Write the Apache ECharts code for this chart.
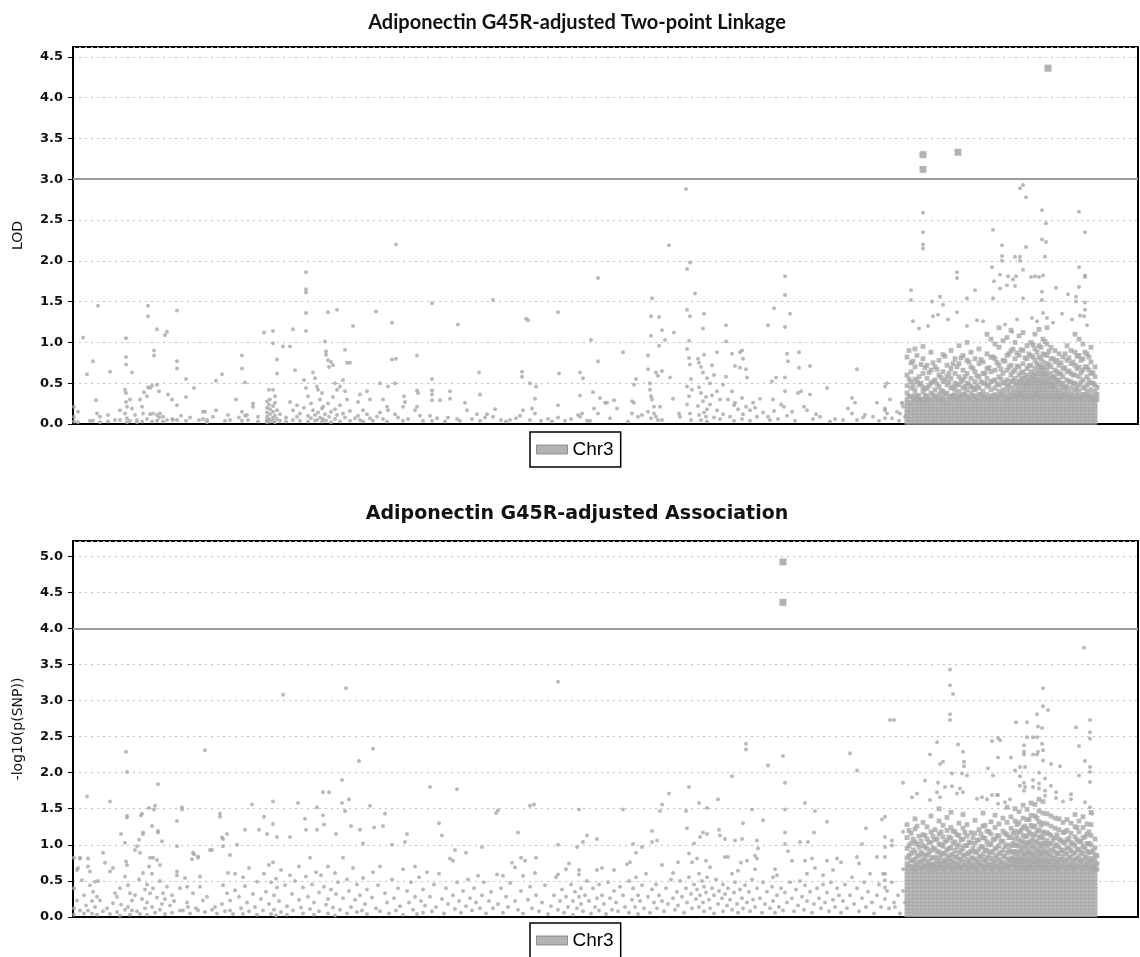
<!DOCTYPE html>
<html><head><meta charset="utf-8">
<script src="https://cdn.jsdelivr.net/npm/echarts@6/dist/echarts.min.js"></script>
<style>html,body{margin:0;padding:0;background:#fff}#c{width:1140px;height:957px}</style>
</head><body><div id="c"></div>
<script>
// ---------- DATA ----------
// x = position along chromosome 3 (plot units), values stored as value*100
// Each entry: [position, v1, v2, ...]
const titles = ['Adiponectin G45R-adjusted Two-point Linkage', 'Adiponectin G45R-adjusted Association'];
const yNames = ['LOD', '-log10(p(SNP))'];
const legendName = 'Chr3';
const xRange = [0, 1065];
const linkYRange = [0, 4.62];
const assocYRange = [0, 5.21];
const yInterval = 0.5;
const linkThreshold = 3.0;
const assocThreshold = 4.0;

// Two-point linkage LOD, sparse part of chromosome
const linkSparse = [[1,21,9,3],[5,15,2],[10,106],[14,61],[17,4],[20,77,4],[23,29],[24,13],[25,145],[27,9,2],[35,11,3],[37,64],[42,5],[47,17,5],[52,42,13],[53,105,82,73,38,27],[54,21,7,2],[57,30,4],[59,63,19],[62,11],[64,5,2],[67,30],[69,21,3],[70,13],[71,39],[74,34,6],[75,145,132,45],[77,44,12],[79,47,3],[80,13],[81,90,84],[84,116,48,11,4],[86,40,8],[87,13],[90,9,3],[92,109],[94,113,5],[95,36],[99,30,6],[100,5],[104,139,77,68,23,5],[108,10],[113,55,33,4],[117,8],[121,44],[126,5],[130,15,6],[132,15],[134,5,2],[140,9],[143,53,17],[149,61],[152,4],[155,11],[157,5],[163,30],[166,8],[169,84,68,15,4],[172,51,10],[174,11],[175,5],[180,25,21],[185,9,3],[191,112],[194,28,20,14,9,5,2],[196,42,24,6],[197,30,18,12,3],[200,114,99,42,22,15,8,4],[202,34,26,10,2],[204,79,62,17,6],[207,12,4],[210,95],[213,8,3],[217,95,27],[220,116,17,5],[222,66],[224,23,9],[227,13,4],[231,54,20],[233,186,165,161,136,114,44],[235,34,10,3],[238,25,7],[240,63,17],[242,56,11,4],[244,46,5],[245,42,14],[247,30,8],[249,38,19,3],[250,21,6],[252,101,12],[253,89,85,4],[255,137,78,25],[256,70,9],[258,76,15,2],[260,72,33],[262,50,18,6],[264,140,42,11],[267,46,23,3],[270,54,13],[272,91,40,8],[274,75,30],[277,75,16,4],[280,120],[282,7],[285,27,10],[287,36,5],[290,17,3],[294,40,12],[297,30,7],[300,4],[303,138],[304,9],[307,50,14],[310,30,6],[314,21,3],[315,46,17],[319,124,79],[322,50,12],[323,220,80],[325,8],[330,21,4],[331,34],[332,27],[335,6],[342,17],[344,84,41,21],[345,38],[347,10],[350,4],[357,10],[359,148,55,41,36,29,4],[364,7],[367,29],[372,3],[375,8],[377,40,31],[384,6],[385,122],[387,4],[392,26],[394,17],[399,6],[404,12],[406,63],[407,36,4],[412,8],[414,12],
[420,152,9],[422,18],[428,5],[433,3],[437,5],[443,7],[447,10],[449,58,64],[450,17],[453,129],[455,127],[457,50,5],[459,19],[462,31,13],[463,46],[468,4],[475,6],[479,3],[485,137,23,8],[486,62],[492,4],[498,6],[505,11],[507,63,35,9],[509,13],[510,56],[514,4],[517,4],[518,103],[520,39],[521,19],[525,179,77,13],[527,32],[532,26],[534,26],[537,7],[541,29],[544,19],[550,88],[555,3],[559,28,13],[561,48,26],[563,55],[565,9],[569,11],[575,84,67,15],[577,50,42],[578,132,108,34,7],[579,154,30],[581,21,13],[583,63,9],[585,59,5],[586,131,96],[587,21],[589,115,65,5],[592,103],[596,219],[597,57],[600,31],[601,112],[606,13],[607,9],[613,288],[614,190,140,92,46,24],[616,102,81,34],[617,198,132,73,13],[618,55,5],[619,42],[622,160],[625,80,22],[626,75,45,11],[628,70,38,5],[630,117,63,28],[631,135,85,14],[633,33,9],[634,56,18,3],[637,50,24],[639,72,35],[641,60,8],[644,88,40,17],[647,30,6],[650,48,12],[653,121,101,58],[655,30],[657,9],[659,86,40],[661,23,4],[662,71,26],[665,18],[667,88,69],[669,90,32,6],[670,80,12],[673,67,21],[674,57],[677,17,4],[680,26],[682,20],[684,9],[687,31],[690,14],[695,121,9],[697,5],[699,52],[700,30],[701,142,16],[703,57],[705,6],[708,24],[711,21],[712,181,158,119,57,40],[714,86,10],[715,77],[717,135],[719,15],[722,4],[725,38],[726,88,69],[728,40],[731,21],[734,17],[737,71,36],[740,6],[743,12],[747,9],[754,44],[757,3],[762,6],[770,5],[775,19],[779,32,13],[782,26],[784,67,5],[790,8],[792,11],[800,9],[804,26],[806,4],[812,46,19,17,7],[814,50,13],[817,30],[819,7],[824,15],[826,4],[827,13],[829,26,25],[830,21],[832,9]];

// Two-point linkage LOD, upper scattered points over the dense block
const linkUpper = [[838,164,152],[840,126],[846,117],[850,259,235,220,215],[855,120],[859,150],[860,132],[865,134],[867,156],[870,146],[875,128],[884,186,179,137],[894,154,120],[902,164],[904,127],[910,126],[919,192],[920,238,154],[921,175],[927,183,166],[929,219,206,200],[932,122],[934,170],[935,181],[939,113],[940,177],[942,205,169],[943,181],[944,128],[947,289,205,200],[950,293,189,154],[953,278,217],[958,180],[959,130],[962,181],[964,126],[966,180],[969,262,226,162,152],[970,182,136],[972,205],[973,246,223],[974,130],[980,124],[983,167],[989,135],[995,159],[999,128],[1003,156,150],[1006,260,192,168],[1007,133],[1011,132],[1012,235,182,180,149,140],[1014,121]];

// Two-point linkage LOD, dense block of markers
const linkDense = [
[834,2,6,10,14,18,22,26,30,38,47,60,82],
[838,2,6,10,14,18,22,26,34,44,52,64,75],
[842,2,6,10,14,18,22,26,30,36,42,55,70,92],
[846,2,6,10,14,18,22,26,30,35,48,58],
[850,2,6,10,14,18,22,26,30,40,45,62,80,95],
[854,2,6,10,14,18,22,26,30,34,44,56,72],
[858,2,6,10,14,18,22,26,30,38,50,66,88],
[862,2,6,10,14,18,22,26,30,34,42,54,70],
[866,2,6,10,14,18,22,26,30,36,46,60,78],
[870,2,6,10,14,18,22,26,30,34,40,52,64,85],
[874,2,6,10,14,18,22,26,30,38,48,58,72],
[878,2,6,10,14,18,22,26,30,34,44,56,68,90],
[882,2,6,10,14,18,22,26,30,36,42,50,62,80],
[886,2,6,10,14,18,22,26,30,34,40,48,58,74,96],
[890,2,6,10,14,18,22,26,30,36,44,54,66,84],
[894,2,6,10,14,18,22,26,30,34,42,50,62,78,100],
[898,2,6,10,14,18,22,26,30,38,46,56,70,88],
[902,2,6,10,14,18,22,26,30,34,42,52,64,80],
[906,2,6,10,14,18,22,26,30,36,44,58,74,92],
[910,2,6,10,14,18,22,26,30,34,40,50,62,76],
[914,2,6,10,14,18,22,26,30,36,46,56,68,86,110],
[918,2,6,10,14,18,22,26,30,34,42,52,64,82,104],
[922,2,6,10,14,18,22,26,30,36,44,54,66,80,98],
[926,2,6,10,14,18,22,26,30,34,40,48,58,72,94,118],
[930,2,6,10,14,18,22,26,30,36,42,50,62,78,102],
[934,2,6,10,14,18,22,26,30,34,40,46,54,66,84,106],
[938,2,6,10,14,18,22,26,30,34,38,44,52,60,72,90,115],
[942,2,6,10,14,18,22,26,30,34,38,42,48,56,66,80,100],
[946,2,6,10,14,18,22,26,30,34,38,42,46,52,60,70,84,108],
[950,2,6,10,14,18,22,26,30,34,38,42,46,50,56,64,74,90,112],
[954,2,6,10,14,18,22,26,30,34,38,42,46,50,54,60,68,80,96],
[958,2,6,10,14,18,22,26,30,34,38,42,46,50,54,58,64,72,84,100],
[962,2,6,10,14,18,22,26,30,34,38,42,46,50,54,58,62,68,78,92,110],
[966,2,6,10,14,18,22,26,30,34,38,42,46,50,54,58,62,66,72,82,96,116],
[970,2,6,10,14,18,22,26,30,34,38,42,46,50,54,58,62,66,70,76,86,104],
[974,2,6,10,14,18,22,26,30,34,38,42,46,50,54,58,62,68,74,84,98,118],
[978,2,6,10,14,18,22,26,30,34,38,42,46,50,56,62,70,80,94],
[982,2,6,10,14,18,22,26,30,34,38,42,46,52,58,66,76,90],
[986,2,6,10,14,18,22,26,30,34,38,42,48,54,62,72,86],
[990,2,6,10,14,18,22,26,30,34,38,44,50,58,68,82],
[994,2,6,10,14,18,22,26,30,34,40,46,54,64,78,96],
[998,2,6,10,14,18,22,26,30,34,38,44,52,62,74,90],
[1002,2,6,10,14,18,22,26,30,36,42,50,60,72,88,110],
[1006,2,6,10,14,18,22,26,30,34,40,48,58,70,84,104],
[1010,2,6,10,14,18,22,26,30,36,44,54,66,80,98],
[1014,2,6,10,14,18,22,26,30,34,40,48,58,70,86],
[1018,2,6,10,14,18,22,26,30,36,42,50,62,76,94],
[1022,2,6,10,14,18,22,26,30,34,40,48,58,70]];

// Two-point linkage LOD, markers lying between the dense columns
const linkDenseMid = [[836,34,55,90],[840,30,48,77],[844,33,52,84],[848,29,50,73],[852,35,43,69],[856,31,47,63],[860,36,52,75],[864,32,49,67],[868,30,41,57],[872,37,54,83],[876,33,51,62],[880,35,45,74],[884,31,48,70],[888,34,53,81],[892,37,46,58],[896,32,49,76],[900,35,44,68],[904,30,47,59],[908,36,52,79],[912,33,50,62],[916,31,48,69],[920,35,53,82],[924,32,49,75],[928,36,55,67],[932,33,51,77],[936,31,48,70,86],[940,35,53,64,92],[944,33,50,71,87],[948,36,54,63,91],[952,32,49,58,81],[956,35,52,71,86],[960,33,50,60,82,97],[964,36,53,74,88],[968,32,49,69,80,94],[972,35,52,61,85,101],[976,33,51,73,89],[980,31,48,57,80],[984,35,53,64,78],[988,32,50,61,75],[992,36,45,69,86],[996,33,52,65,81],[1000,31,49,60,76],[1004,35,44,68,83],[1008,32,51,63,78],[1012,36,45,70,88],[1016,33,53,66,82],[1020,31,50,63],[1024,30,36,45]];

// Linkage markers above the LOD threshold (drawn as squares)
const linkPeaks = [[850,330],[850,312],[885,333],[975,436]];

// Association -log10(p), sparse part of chromosome
const assocSparse = [[1,82,40,12,3],[4,23,65],[5,68],[7,82,81,9],[9,51],[11,30,5],[13,16],[14,167],[15,81,70,9],[17,63,44],[19,5,22],[20,35],[22,49,14],[24,28,3],[25,50],[27,23],[30,89,8],[32,75],[34,12],[37,160,63,4],[40,68,19],[42,33],[44,28,7],[47,40,2],[48,115,17],[52,103,56,10],[53,229,77],[54,201,140,138,72],[55,44,14],[57,33,3],[59,23,9],
[62,93,30],[64,98,8],[66,107,52],[67,89,4],[68,141],[69,143,25],[70,117,115,61],[72,38,12],[74,45,20,3],[76,151,70],[77,82,33],[79,126,60,14],[80,82,40],[81,149],[82,154,6],[84,79,27],[85,184,119,117],[87,72,50,10],[89,105,18],[90,33],[92,25,4],[94,42],[97,16],[99,30,6],[101,22],[104,133,98,63,58],[107,40,9],[109,152,149],[110,9],[112,54],[114,42,20],[115,14],[117,5],[119,80],
[120,89,33],[121,87],[123,12],[125,84,82,9],[127,56,42],[130,23],[132,231,7],[134,28],[137,93],[139,93,10],[142,14],[144,5],[147,143,139],[149,110,18],[150,98,108,44],[152,8],[154,115,33],[155,61],[157,86,23,9],[160,4],[162,60,37],[164,100],[166,28],[168,12],[170,55,4],[172,121,43],[174,20],[176,68,8],[179,156],[180,32],[182,14],[184,49,3],[186,121],[188,25],[190,9],[191,139,60],[193,35],[194,115],[196,72,18],[198,48,4],
[200,160,129,76],[201,30,10],[203,53,2],[204,111,41],[206,22],[208,65,7],[210,308],[212,44],[214,15,3],[217,111,58],[219,32],[220,9],[222,50],[225,158],[226,70,24],[228,13],[230,41,5],[232,136],[233,121,56],[235,28],[237,82,11],[239,45],[241,20,3],[243,62],[244,152,121],[246,34,8],[248,58],[250,173,141],[251,128,42],[253,17],[255,70,25,5],[256,173],[258,38],[260,13],[262,61,2],[263,115,32],[265,48],[267,10],[269,190,158],[270,82,26],[272,147],[273,317],[274,52,5],[276,163,36],[278,126,14],[280,68],[282,24],[284,45,7],[286,216],[287,121,30],[289,9],[290,102,54],[292,18],[294,38,4],[297,154],[299,27],
[300,233,62],[301,124],[303,12],[305,44],[307,70,8],[310,126],[312,143,33],[314,20],[316,5],[319,100,52],[321,26],[323,9],[325,40],[327,15],[330,66,3],[332,104],[334,115,36],[336,20],[338,48],[340,10],[342,70,28],[344,4],[346,55],[348,22],[350,38,6],[352,16],[354,62],[357,180,28],[359,8],[361,45],[363,14],[366,130,60],[369,113,25],[371,5],[373,40],[375,18],[377,81],[380,78,30],[382,93,11],[384,177,48],[386,22],[388,6],[390,36],[393,89,15],[395,52],[397,26],[399,9],[401,40],[403,20],[405,57],[407,12],[409,97,30],[411,48],[413,5],[416,22],
[418,35],[420,12],[423,144],[424,59],[425,148,18],[428,40],[430,57,6],[433,28],[435,14],[437,47],[439,75],[442,69,22],[445,117,10],[448,82,36],[450,57,5],[452,78],[455,24],[457,154,42],[459,12],[461,156],[462,61],[463,82,30],[466,8],[469,20],[472,44],[475,4],[478,15],[481,30],[483,55],[485,326,100,59,10],[487,22],[489,38],[491,6],[493,66,28],[495,14],[496,74],[498,45],[500,22,3],[502,35],[504,97,12],[506,149,65,59,28],[508,40,18],[510,104,8],[512,30],[514,113,50],[516,22],[518,5],[520,40],[522,14],[524,108,65,26],[526,45,9],[529,68,30],[531,18],[533,4],[535,48],[537,26],[539,10],[541,65,36],[543,20],[545,8],[547,42],[550,149,30],[552,14],[554,73],[556,50,6],[557,76],[559,24],[560,101,40],
[562,14],[563,89,55],[565,30,4],[567,22],[569,97,44],[571,12],[573,60],[575,28],[577,6],[579,119,104,38],[581,20],[583,45],[584,106,12],[586,30],[587,147],[589,156,72,22],[591,8],[593,40],[595,18],[596,171],[598,52],[600,61,26],[602,10],[604,35],[605,76,16],[607,50],[609,28],[611,6],[613,147,40],[614,123,20],[616,180,88,55],[618,32],[619,76,12],[621,102,45],[623,25],[624,81,38],[626,158,60,14],[627,111,30],[629,50],[630,117,20],[631,42,8],[633,78,34],[634,151,115,55],[636,24],[637,69,12],[639,40],[641,30,5],[643,52],[645,163,18],[646,121,36],[647,113],[649,26],[650,45,8],[652,108,83,32],[654,16],[655,83,40],[657,24],[659,195,60,10],[661,34],[662,106,48],[664,18],[665,64,6],[667,38],[668,75],[669,108,26],[670,130,12],[672,44],[673,240,232],[674,78,20],[676,35],[677,8],[679,149,52],[680,24],[682,85,66,14],[684,106,81,40],[685,95],[687,26],[689,6],[690,134,48],[692,18],[694,35],[695,210],[697,12],[699,42],
[700,55,22],[702,66,6],[704,58,30],[706,14],[708,40],[710,223,9],[712,186,149,117,101,34],[714,20],[715,91],[717,48],[719,78,26],[721,8],[723,38],[725,16],[727,104,50],[729,28],[731,10],[732,158,78,44],[734,60,22],[735,104],[737,35],[739,81,6],[741,117,18],[742,147,68],[744,40],[746,26],[748,12],[750,58,45],[752,20],[754,132,78,34],[756,8],[758,48],[760,65,24],[762,14],[764,81,40],[766,30],[768,76,6],[770,22],[772,45],[774,12],[777,227,30],[779,55],[781,18],[784,203,83,40],[786,74,8],[789,101,26],[791,48],[793,123,14],[795,35],[797,60],[799,20],[801,5],[804,83,30],[806,45],[808,14],[809,135],[810,60],[812,139,111,97,83,60,51,41,25],[814,36],[816,12],[817,273],[819,106,99,48],[821,273,20],[822,14],[825,30],[827,5],[830,186,118,66,36],[832,20]];

// Association upper scattered points over the dense block
const assocUpper = [[1011,373],[877,343,321,281,273],[880,309],[970,317,292,231,217],[975,287],[964,281,249,225],[969,262,240],[965,264,229],[943,270],[954,270,249],[1003,263],[1017,273,256,247,208,201,187,152],[864,242,173],[885,239],[890,229,173],[857,225,162],[870,215],[867,212,166],[891,215,209],[919,244,169],[925,248,221,169],[927,245],[938,221],[951,238,229,225,186,175],[960,249,225,190,180],[1006,237,196],[978,212,182],[987,209],[942,203],[947,208,195,182],[952,208,180],[1012,216,159],[879,199,181],[889,199],[894,196],[915,206],[920,196],[852,189],[865,186],[872,180],[887,178],[884,171],[839,166],[844,171],[904,164],[909,166],[914,163],[924,169],[925,157],[932,159],[937,163],[966,200,185,178],[972,192,175,168],[983,173,165],[990,160],[998,170,163],[1019,143]];

// Association dense block of markers
const assocDense = [
[834,3,8,13,18,23,28,33,38,43,48,53,58,63,68,74,82,95,110,128],
[838,3,8,13,18,23,28,33,38,43,48,53,58,63,70,78,88,102,116],
[842,3,8,13,18,23,28,33,38,43,48,53,58,63,67,73,80,90,104,122,136],
[846,3,8,13,18,23,28,33,38,43,48,53,58,63,69,76,85,97,112],
[850,3,8,13,18,23,28,33,38,43,48,53,58,63,68,72,79,87,99,114,131],
[854,3,8,13,18,23,28,33,38,43,48,53,58,63,70,77,86,95,108,125],
[858,3,8,13,18,23,28,33,38,43,48,53,58,63,68,73,81,92,104,118,140],
[862,3,8,13,18,23,28,33,38,43,48,53,58,63,67,74,83,94,107,121],
[866,3,8,13,18,23,28,33,38,43,48,53,58,63,69,75,82,90,101,115,133,150],
[870,3,8,13,18,23,28,33,38,43,48,53,58,63,68,73,79,88,98,111,127],
[874,3,8,13,18,23,28,33,38,43,48,53,58,63,70,76,84,93,106,120,138],
[878,3,8,13,18,23,28,33,38,43,48,53,58,63,67,72,78,86,96,109,124,145],
[882,3,8,13,18,23,28,33,38,43,48,53,58,63,69,75,83,92,104,118],
[886,3,8,13,18,23,28,33,38,43,48,53,58,63,68,73,80,89,100,113,130],
[890,3,8,13,18,23,28,33,38,43,48,53,58,63,70,77,85,95,108,123,142],
[894,3,8,13,18,23,28,33,38,43,48,53,58,63,67,72,79,88,99,112,128],
[898,3,8,13,18,23,28,33,38,43,48,53,58,63,69,74,82,91,103,117],
[902,3,8,13,18,23,28,33,38,43,48,53,58,63,68,73,80,90,102,116,134],
[906,3,8,13,18,23,28,33,38,43,48,53,58,63,70,76,84,94,107,121],
[910,3,8,13,18,23,28,33,38,43,48,53,58,63,67,72,79,87,97,110,126,144],
[914,3,8,13,18,23,28,33,38,43,48,53,58,63,69,75,82,92,104,119],
[918,3,8,13,18,23,28,33,38,43,48,53,58,63,68,73,81,90,101,115,132],
[922,3,8,13,18,23,28,33,38,43,48,53,58,63,70,76,85,95,108,124,141],
[926,3,8,13,18,23,28,33,38,43,48,53,58,63,67,72,79,88,99,112,129],
[930,3,8,13,18,23,28,33,38,43,48,53,58,63,69,75,83,93,105,119,137],
[934,3,8,13,18,23,28,33,38,43,48,53,58,63,68,73,80,89,100,114,131,152],
[938,3,8,13,18,23,28,33,38,43,48,53,58,63,70,75,82,90,99,110,123,139],
[942,3,8,13,18,23,28,33,38,43,48,53,58,63,68,73,78,84,91,99,108,119,133,150],
[946,3,8,13,18,23,28,33,38,43,48,53,58,63,67,72,77,83,90,98,107,118,131,146],
[950,3,8,13,18,23,28,33,38,43,48,53,58,63,68,73,78,83,89,96,104,113,124,137,155],
[954,3,8,13,18,23,28,33,38,43,48,53,58,63,67,72,77,82,88,95,103,112,122,135,149],
[958,3,8,13,18,23,28,33,38,43,48,53,58,63,68,73,78,84,90,97,105,115,127,141,158],
[962,3,8,13,18,23,28,33,38,43,48,53,58,63,67,72,77,83,89,96,104,114,126,140,156],
[966,3,8,13,18,23,28,33,38,43,48,53,58,63,68,73,78,83,89,95,102,110,120,132,147,163],
[970,3,8,13,18,23,28,33,38,43,48,53,58,63,67,72,77,82,88,94,101,109,118,130,144,160],
[974,3,8,13,18,23,28,33,38,43,48,53,58,63,68,73,78,84,90,97,106,117,129,143],
[978,3,8,13,18,23,28,33,38,43,48,53,58,63,67,72,78,85,93,102,113,126,140],
[982,3,8,13,18,23,28,33,38,43,48,53,58,63,69,75,82,90,99,110,123,137],
[986,3,8,13,18,23,28,33,38,43,48,53,58,63,68,73,80,88,97,108,121,136],
[990,3,8,13,18,23,28,33,38,43,48,53,58,63,70,76,84,93,104,117,131],
[994,3,8,13,18,23,28,33,38,43,48,53,58,63,67,72,79,87,96,107,120,135],
[998,3,8,13,18,23,28,33,38,43,48,53,58,63,69,75,83,92,103,116,130],
[1002,3,8,13,18,23,28,33,38,43,48,53,58,63,68,73,80,89,99,111,125,142],
[1006,3,8,13,18,23,28,33,38,43,48,53,58,63,70,76,84,94,105,118,133],
[1010,3,8,13,18,23,28,33,38,43,48,53,58,63,67,72,79,88,98,110,124,139],
[1014,3,8,13,18,23,28,33,38,43,48,53,58,63,69,75,82,91,102,115,129],
[1018,3,8,13,18,23,28,33,38,43,48,53,58,63,68,74,81,90,100,113,128,145],
[1022,3,8,13,18,23,28,33,38,43,48,53,58,63,67,72,78,86,96,108]];

// Association markers lying between the dense columns
const assocDenseMid = [[836,71,85,99,120],[840,66,79,93,108],[844,72,84,101,126],[848,68,77,90,105],[852,70,83,97,113],[856,66,75,88,103],[860,71,82,96,112],[864,68,78,91,108],[868,72,86,100,118],[872,67,77,89,104],[876,70,81,95,111],[880,66,76,87,102,119],[884,71,83,97,114],[888,68,79,92,107],[892,72,85,99,117],[896,67,76,89,104],[900,70,82,95,110],[904,66,77,90,106],[908,71,83,98,115],[912,68,79,93,109,127],[916,72,86,100,118],[920,67,78,91,107],[924,70,82,96,113],[928,66,76,89,105],[932,71,84,98,116],[936,68,79,93,110],[940,72,80,90,102,116],[944,69,78,88,100,113,128],[948,71,80,92,105,120],[952,68,77,87,99,111,126],[956,70,79,90,103,118,135],[960,67,76,86,98,110,125],[964,71,80,91,104,119,137],[968,69,78,88,99,112,127],[972,70,79,90,102,116],[976,68,77,88,101,115],[980,71,81,93,107],[984,67,76,87,100,114],[988,70,80,92,106],[992,68,78,89,103,118],[996,71,82,95,109],[1000,67,77,88,101],[1004,70,81,93,107,124],[1008,68,78,90,104],[1012,71,83,96,111],[1016,67,77,89,102,118],[1020,70,80,92],[1024,66,74,85]];

// Association markers above the threshold (drawn as squares)
const assocPeaks = [[710,492],[710,436]];

// ---------- BUILD ----------
function expand() {
  const out = [];
  for (const cols of arguments) for (const c of cols) for (let i = 1; i < c.length; i++) out.push([c[0], c[i] / 100]);
  return out;
}
const DOT = '#a7a7a7';
const chart = echarts.init(document.getElementById('c'), null, {renderer: 'canvas'});

function yAxisCfg(idx, range, name, gap) {
  return {
    gridIndex: idx, type: 'value', min: range[0], max: range[1], interval: yInterval,
    name: name, nameLocation: 'middle', nameGap: gap, nameRotate: 90,
    nameTextStyle: {fontFamily: 'DejaVu Sans', fontSize: 14, color: '#111'},
    axisLine: {show: true, lineStyle: {color: '#000', width: 2}},
    axisTick: {show: true, length: 5, lineStyle: {color: '#000', width: 1}},
    axisLabel: {showMaxLabel: false, margin: 10, fontFamily: 'DejaVu Sans', fontWeight: 'bold', fontSize: 13, color: '#111',
      formatter: v => (Math.abs(v / yInterval - Math.round(v / yInterval)) < 1e-6 ? v.toFixed(1) : '')},
    splitLine: {show: true, lineStyle: {color: '#bdbdbd', width: 1, type: [2, 4]}}
  };
}
function xAxisCfg(idx) {
  return {gridIndex: idx, type: 'value', min: xRange[0], max: xRange[1],
    axisLine: {show: true, onZero: false, lineStyle: {color: '#000', width: 2}},
    axisTick: {show: false}, axisLabel: {show: false}, splitLine: {show: false}};
}
function thresholdLine(v) {
  return {silent: true, symbol: 'none', label: {show: false},
    lineStyle: {color: '#9a9a9a', width: 2, type: 'solid'}, data: [{yAxis: v}]};
}
function legendCfg(top) {
  return {data: [legendName], left: 530, top: top, orient: 'horizontal', icon: 'rect', itemWidth: 31, itemHeight: 9,
    padding: [8, 7, 8, 6], borderColor: '#000', borderWidth: 1.5, itemGap: 4,
    itemStyle: {color: '#a0a0a0', borderColor: '#7a7a7a', borderWidth: 1},
    textStyle: {fontFamily: 'Liberation Sans', fontSize: 19, color: '#000'}};
}
function dots(gi, data, sym, size) {
  return {name: legendName, type: 'scatter', xAxisIndex: gi, yAxisIndex: gi, symbol: sym, symbolSize: size,
    itemStyle: {color: DOT}, data: data, z: 2};
}

const option = {
  animation: false,
  backgroundColor: '#fff',
  title: [
    {text: titles[0], left: 572, top: 8, textAlign: 'center',
     textStyle: {fontFamily: 'Lato', fontWeight: 'bold', fontSize: 20, color: '#111'}},
    {text: titles[1], left: 572, top: 500, textAlign: 'center',
     textStyle: {fontFamily: 'DejaVu Sans', fontWeight: 'bold', fontSize: 19, color: '#111'}}
  ],
  legend: [legendCfg(432), legendCfg(923)],
  grid: [
    {left: 73, right: 2, top: 47, height: 377, show: true, borderColor: '#000', borderWidth: 2},
    {left: 73, right: 2, top: 541, height: 376, show: true, borderColor: '#000', borderWidth: 2}
  ],
  xAxis: [xAxisCfg(0), xAxisCfg(1)],
  yAxis: [yAxisCfg(0, linkYRange, yNames[0], 48), yAxisCfg(1, assocYRange, yNames[1], 48)],
  series: [
    Object.assign(dots(0, expand(linkSparse, linkUpper), 'circle', 4), {markLine: thresholdLine(linkThreshold)}),
    dots(0, expand(linkDense, linkDenseMid), 'rect', 4.8),
    {name: legendName, type: 'scatter', xAxisIndex: 0, yAxisIndex: 0, symbol: 'rect', symbolSize: 7,
     itemStyle: {color: '#a0a0a0'}, data: expand(linkPeaks), z: 3},
    Object.assign(dots(1, expand(assocSparse, assocUpper), 'circle', 4), {markLine: thresholdLine(assocThreshold)}),
    dots(1, expand(assocDense, assocDenseMid), 'rect', 4.8),
    {name: legendName, type: 'scatter', xAxisIndex: 1, yAxisIndex: 1, symbol: 'rect', symbolSize: 7,
     itemStyle: {color: '#a0a0a0'}, data: expand(assocPeaks), z: 3}
  ]
};
chart.setOption(option);
</script>
</body></html>
